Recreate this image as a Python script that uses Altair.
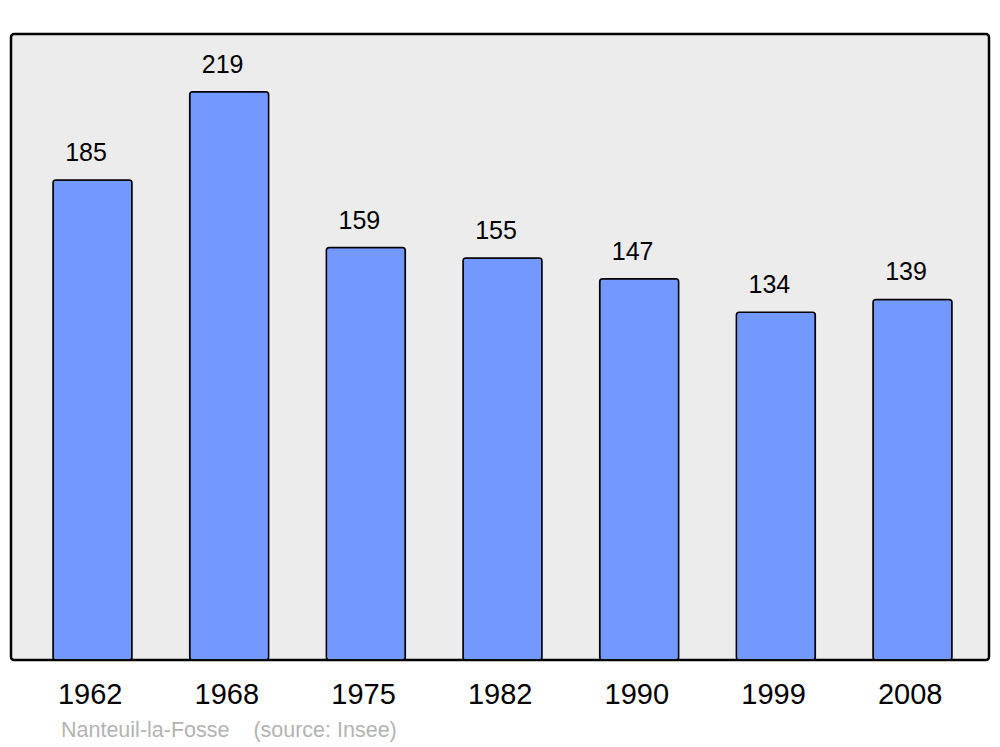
import altair as alt
import pandas as pd

years = ["1962", "1968", "1975", "1982", "1990", "1999", "2008"]
population = [185, 219, 159, 155, 147, 134, 139]
caption = ["Nanteuil-la-Fosse\u00a0\u00a0\u00a0\u00a0(source: Insee)"]

df = pd.DataFrame({"year": years, "pop": population})
cap = pd.DataFrame({"t": caption})

x = alt.X("year:N", sort=years, title=None,
          scale=alt.Scale(range=[42, 941], paddingInner=0.422, paddingOuter=0),
          axis=alt.Axis(labelAngle=0, labelFontSize=29, labelColor="black",
                        labelFont="Liberation Sans", ticks=False, domain=False,
                        labelPadding=20, labelOffset=-2.3))
y = alt.Y("pop:Q", title=None, scale=alt.Scale(domain=[0, 241.3], nice=False, zero=True),
          axis=None)

bars = alt.Chart(df).mark_bar(color="#7399ff", stroke="black", strokeWidth=1.5,
                              cornerRadius=3).encode(x=x, y=y)
labels = alt.Chart(df).mark_text(font="Liberation Sans", fontSize=25, color="black",
                                 baseline="alphabetic", dy=-19, dx=-6.5).encode(
    x=x, y=y, text="pop:Q")
captxt = alt.Chart(cap).mark_text(font="Liberation Sans", fontSize=21.5, color="#b3b3b3",
                                  align="left", baseline="middle").encode(
    x=alt.value(50), y=alt.value(697), text="t:N")

chart = alt.layer(bars, labels, captxt).properties(
    width=978, height=626,
    autosize=alt.AutoSizeParams(type="none"),
    padding={"left": 3, "top": 26, "right": 3, "bottom": 86},
    background="white",
).configure_view(fill="#ececec", stroke="black", strokeWidth=2.5, cornerRadius=3)

chart.save("out.html", embed_options={"renderer": "svg", "actions": False})
